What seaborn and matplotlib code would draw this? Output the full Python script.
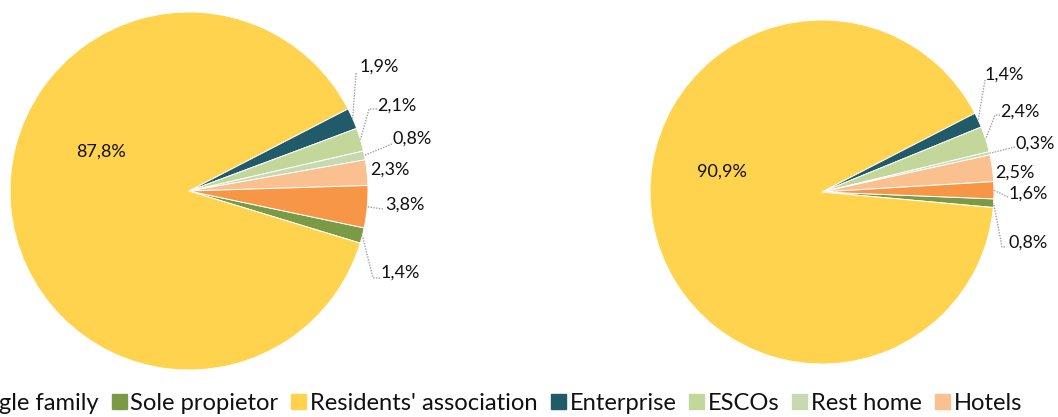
import matplotlib
matplotlib.use("Agg")
import matplotlib.pyplot as plt
import seaborn as sns
import numpy as np
from matplotlib.lines import Line2D

# ---------------- data ----------------
categories = ["Single family", "Sole propietor", "Residents' association",
              "Enterprise", "ESCOs", "Rest home", "Hotels", "Others"]
left_values = [0.0, 1.4, 87.8, 1.9, 2.1, 0.8, 2.3, 3.8]
right_values = [0.0, 0.8, 90.9, 1.4, 2.4, 0.3, 2.5, 1.6]
colors = ["#4F81BD", "#7A9A45", "#FFD34E", "#215A69", "#C4D79B",
          "#C8D8B0", "#FAC08F", "#F79646"]
legend_count = 7  # visible legend entries

# ---------------- style ----------------
sns.set_theme(style="white")
plt.rcParams["font.family"] = ["Lato", "DejaVu Sans"]

W, H = 1058, 417
fig = plt.figure(figsize=(W / 100, H / 100), dpi=100)


def fmt(v):
    return f"{v:.1f}".replace(".", ",") + "%"


def draw_pie(values, cx, cy, r, start, layout):
    ax = fig.add_axes([(cx - r) / W, (H - cy - r) / H, 2 * r / W, 2 * r / H])
    wedges, _ = ax.pie(values, colors=colors, startangle=start,
                       counterclock=False, radius=1,
                       wedgeprops=dict(edgecolor="white", linewidth=0.7))
    ax.set_xlim(-1, 1)
    ax.set_ylim(-1, 1)
    ax.set_aspect("auto")
    ax.axis("off")

    def p2d(px, py):
        return ((px - cx) / r, (cy - py) / r)

    for i, w in enumerate(wedges):
        if values[i] <= 0 or i not in layout:
            continue
        tx, ty, leader = layout[i]
        x, y = p2d(tx, ty)
        ax.text(x, y, fmt(values[i]), ha="center", va="center",
                fontsize=13, color="#111111", clip_on=False)
        if leader:
            mid = np.deg2rad((w.theta1 + w.theta2) / 2)
            pts = [p2d(*p) for p in leader] + [(np.cos(mid), np.sin(mid))]
            xs, ys = zip(*pts)
            ax.plot(xs, ys, color="#A0A0A0", lw=1.0,
                    linestyle=(0, (1, 1)), clip_on=False)
    return ax


# label layout (pixel positions): text centre, leader points
left_layout = {
    2: (101, 152, None),
    3: (379, 67, [(356, 73)]),
    4: (397, 106, [(377, 109), (369, 109)]),
    5: (412, 139, [(392, 144)]),
    6: (390, 170, None),
    7: (405, 205, [(383, 209)]),
    1: (400, 273, [(380, 278), (373, 278)]),
}
right_layout = {
    2: (722, 172, None),
    3: (1004, 75, [(985, 80)]),
    4: (1020, 112, [(1000, 115), (995, 115)]),
    5: (1035, 144, [(1015, 147)]),
    6: (1015, 173, None),
    7: (1028, 194, [(1008, 197)]),
    1: (1028, 243, [(1005, 247), (1002, 247)]),
}

draw_pie(left_values, 189, 191, 179, -11.9, left_layout)
draw_pie(right_values, 822, 192, 172, -2.3, right_layout)

handles = [Line2D([], [], marker="s", linestyle="", markersize=10.8,
                  markerfacecolor=c, markeredgecolor=c)
           for c in colors[:legend_count]]
fig.legend(handles, categories[:legend_count], loc="center left",
           bbox_to_anchor=(-52 / W, 14 / H), ncol=legend_count,
           frameon=False, fontsize=17.1, handlelength=0.63,
           handletextpad=0.18, columnspacing=0.52, borderpad=0,
           borderaxespad=0, labelcolor="#111111")

fig.savefig("out.png", dpi=100)
